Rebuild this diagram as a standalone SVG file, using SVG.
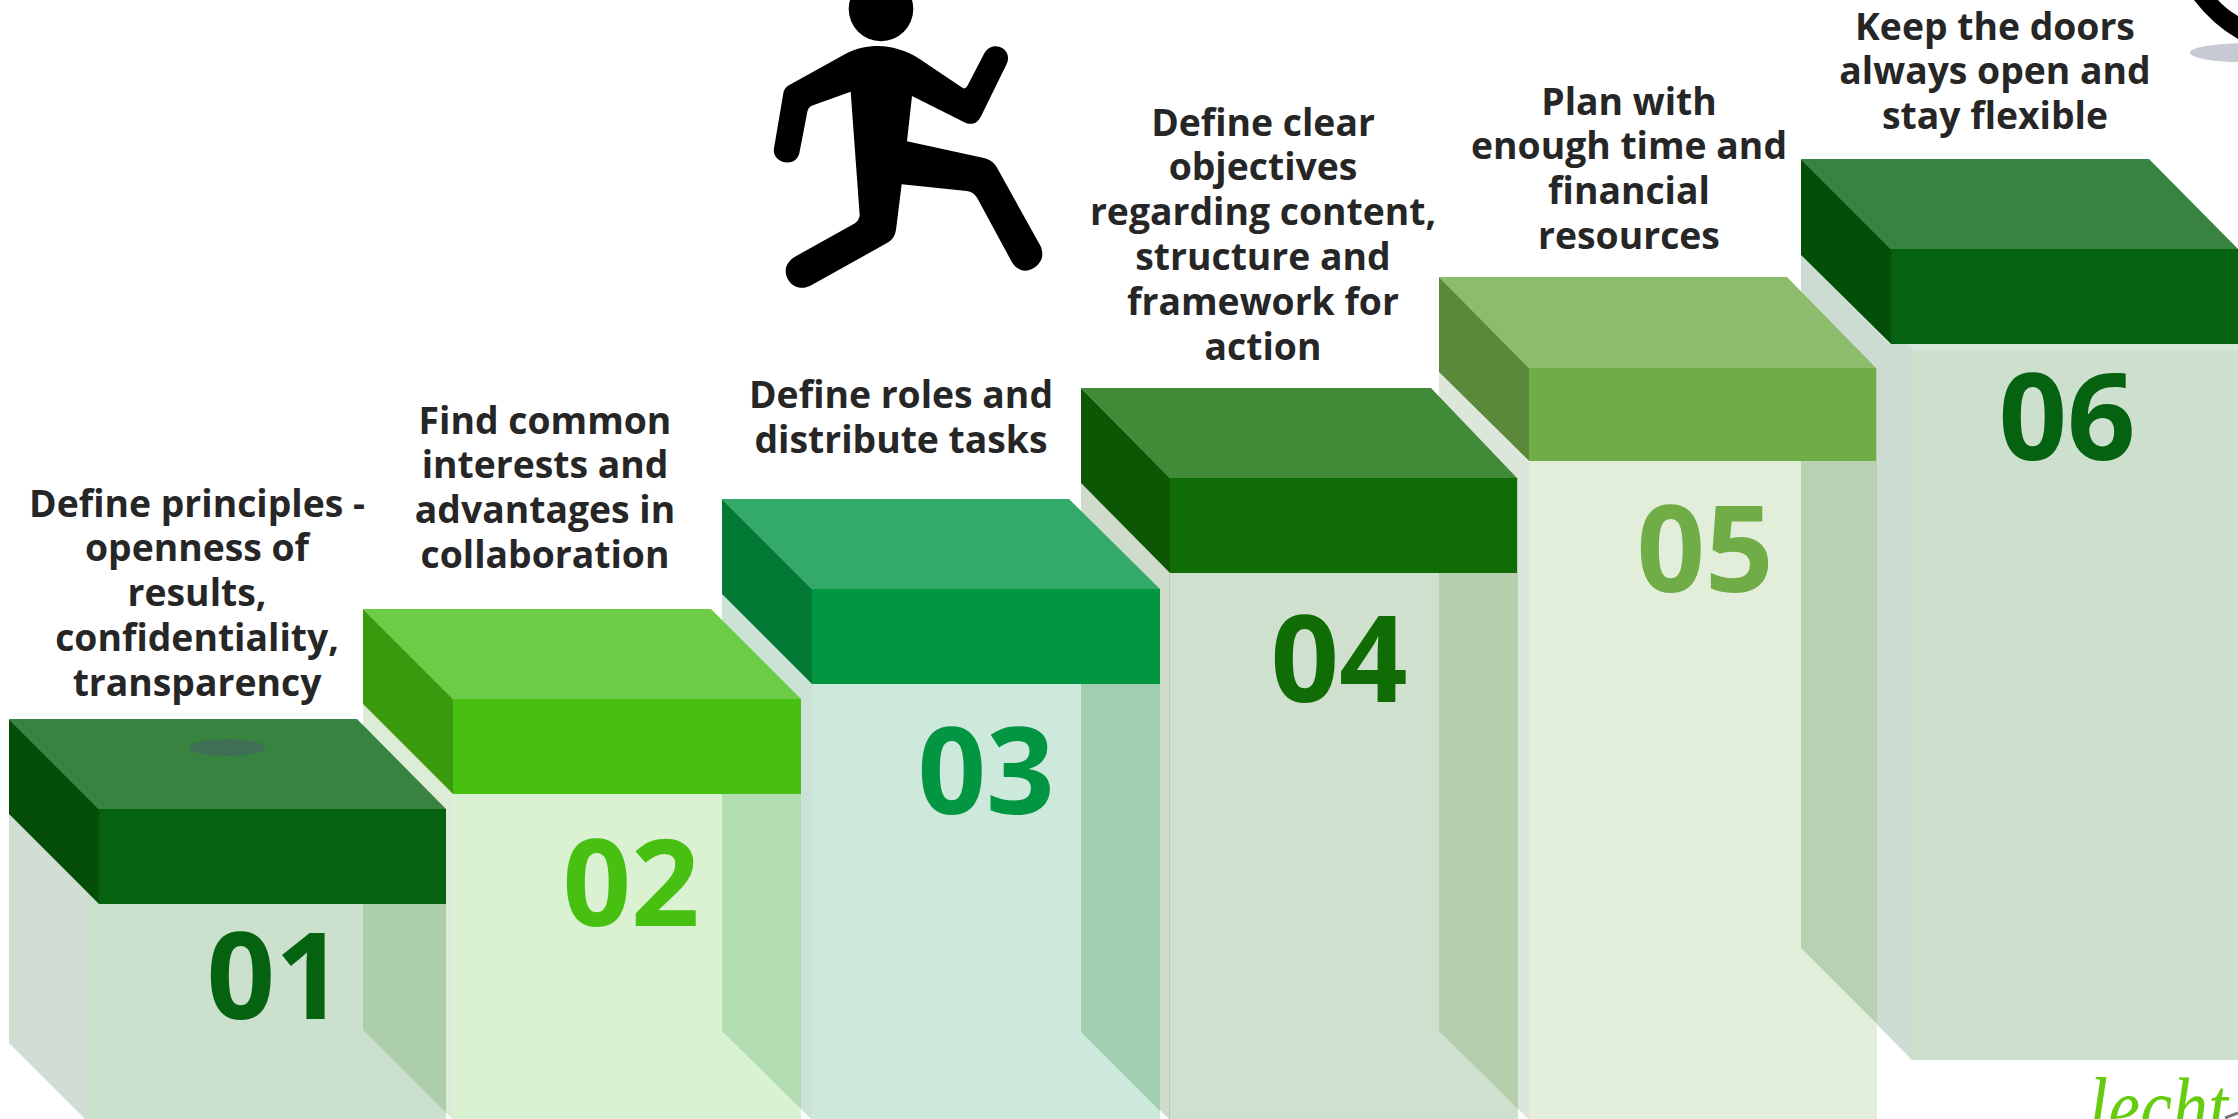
<svg xmlns="http://www.w3.org/2000/svg" width="2238" height="1119" viewBox="0 0 2238 1119">
<style>
.lbl{font-family:"Open Sans","Liberation Sans",sans-serif;font-weight:700;font-size:37.3px;fill:#262626;text-anchor:middle}
.num{font-family:"Open Sans","Liberation Sans",sans-serif;font-weight:700;font-size:120px;text-anchor:middle}
.c1{fill:#056210}.t1{fill:#37833f}.l1{fill:#034f0a}
.c2{fill:#47c012}.t2{fill:#6ccc45}.l2{fill:#399a0e}
.c3{fill:#039642}.t3{fill:#33aa6a}.l3{fill:#027a35}
.c4{fill:#106d06}.t4{fill:#418a38}.l4{fill:#0d5704}
.c5{fill:#70ad47}.t5{fill:#8dbd6c}.l5{fill:#5a8a39}
</style>
<rect width="2238" height="1119" fill="#ffffff"/>
<g id="step-6">
<polygon points="1801,255 1890,344 1912,344 1912,1060 1801,948" fill="#cddcd2"/>
<rect x="1912" y="344" width="326" height="716" fill="#cce0cd"/>
<polygon points="1906,344 2238,344 2238,350 1912,350" fill="#d6e6da"/>
<polygon class="t1" points="1801,159 2149,159 2238,249 1891,249"/>
<rect class="c1" x="1891" y="249" width="347" height="95"/>
<polygon class="l1" points="1801,159 1891,249 1891,344 1801,255"/>
<text class="num c1" x="2067" y="460">06</text>
<text class="lbl" y="39.5"><tspan x="1995">Keep the doors</tspan><tspan x="1995" dy="44.8">always open and</tspan><tspan x="1995" dy="44.8">stay flexible</tspan></text>
</g>
<g id="step-5">
<polygon points="1439,372 1529,462 1529,1120 1439,1031" fill="#dde6da"/>
<rect x="1529" y="459" width="348" height="660" fill="#e3eeda"/>
<polygon points="1801,368 1877,368 1877,1024 1801,948" fill="#b8d1b3"/>
<polygon class="t5" points="1439,277 1787,277 1876,368 1529,368"/>
<rect class="c5" x="1529" y="368" width="347" height="93"/>
<polygon class="l5" points="1439,277 1529,368 1529,461 1439,372"/>
<text class="num c5" x="1705" y="592">05</text>
<text class="lbl" y="114.5"><tspan x="1629">Plan with</tspan><tspan x="1629" dy="44.8">enough time and</tspan><tspan x="1629" dy="44.8">financial</tspan><tspan x="1629" dy="44.8">resources</tspan></text>
</g>
<g id="step-4">
<polygon points="1081,483 1169,571 1169,1119 1081,1032" fill="#cfdccb"/>
<rect x="1169" y="571" width="349" height="548" fill="#d0e0ce"/>
<line x1="1169.5" y1="573" x2="1169.5" y2="1119" stroke="#b9ccb5" stroke-width="1"/>
<polygon points="1439,478 1518,478 1518,1109 1439,1031" fill="#b5cfad"/>
<polygon class="t4" points="1081,388 1431,388 1517,478 1170,478"/>
<rect class="c4" x="1170" y="478" width="347" height="95"/>
<polygon class="l4" points="1081,388 1170,478 1170,573 1081,483"/>
<text class="num c4" x="1339" y="702">04</text>
<text class="lbl" y="135.5"><tspan x="1263">Define clear</tspan><tspan x="1263" dy="44.8">objectives</tspan><tspan x="1263" dy="44.8">regarding content,</tspan><tspan x="1263" dy="44.8">structure and</tspan><tspan x="1263" dy="44.8">framework for</tspan><tspan x="1263" dy="44.8">action</tspan></text>
</g>
<g id="step-3">
<polygon points="722,594 812,684 812,1120 722,1031" fill="#cce2d6"/>
<rect x="812" y="682" width="348" height="437" fill="#cde9db"/>
<polygon points="1081,589 1160,589 1160,1111 1081,1032" fill="#a2ceb0"/>
<polygon class="t3" points="722,499 1069,499 1160,589 812,589"/>
<rect class="c3" x="812" y="589" width="348" height="95"/>
<polygon class="l3" points="722,499 812,589 812,684 722,594"/>
<text class="num c3" x="986" y="814">03</text>
<text class="lbl" y="408"><tspan x="901">Define roles and</tspan><tspan x="901" dy="44.8">distribute tasks</tspan></text>
</g>
<g id="step-2">
<polygon points="363,704 453,794 453,1120 363,1030" fill="#dcecd6"/>
<rect x="453" y="792" width="348" height="327" fill="#daf2d1"/>
<polygon points="722,699 801,699 801,1109 722,1031" fill="#b2ddb0"/>
<polygon class="t2" points="363,609 711,609 801,699 453,699"/>
<rect class="c2" x="453" y="699" width="348" height="95"/>
<polygon class="l2" points="363,609 453,699 453,794 363,704"/>
<text class="num c2" x="631" y="926">02</text>
<text class="lbl" y="433.5"><tspan x="545">Find common</tspan><tspan x="545" dy="44.8">interests and</tspan><tspan x="545" dy="44.8">advantages in</tspan><tspan x="545" dy="44.8">collaboration</tspan></text>
</g>
<g id="step-1">
<polygon points="9,814 87,892 87,1121 9,1043" fill="#cfddd2"/>
<rect x="87" y="885" width="359" height="234" fill="#cbe0cd"/>
<polygon points="363,809 446,809 446,1113 363,1030" fill="#aecfac"/>
<polygon class="t1" points="9,719 357,719 446,809 99,809"/>
<rect class="c1" x="99" y="809" width="347" height="95"/>
<polygon class="l1" points="9,719 99,809 99,904 9,814"/>
<ellipse cx="227" cy="747.5" rx="38" ry="8.5" fill="#3f7056"/>
<text class="num c1" x="275" y="1019">01</text>
<text class="lbl" y="516.5"><tspan x="197">Define principles -</tspan><tspan x="197" dy="44.8">openness of</tspan><tspan x="197" dy="44.8">results,</tspan><tspan x="197" dy="44.8">confidentiality,</tspan><tspan x="197" dy="44.8">transparency</tspan></text>
</g>
<g id="runner">
<circle cx="881" cy="9" r="32.3" fill="#000000"/>
<path transform="translate(740 0) scale(0.33333)" fill="#000000" d="M415 138C450 138 500 150 540 178L665 262Q675 270 682 258L733 160C745 138 770 133 788 145C805 157 808 175 800 192L725 345C712 372 695 378 670 365L516 288L501 424L735 475Q760 482 772 505L900 735C915 765 905 790 880 805C855 820 830 810 815 785L712 595Q702 575 680 573L485 553L468 690Q464 715 445 727L215 855C190 870 160 865 145 840C128 810 140 785 165 770L345 670Q358 660 359 645L332 275L215 317Q205 322 202 335L178 460C172 482 155 490 135 487C112 483 98 465 102 445L130 280Q133 262 148 255L320 160C350 145 380 138 415 138Z"/>
</g>
<g id="top-right-figure">
<ellipse cx="2244" cy="52.7" rx="54" ry="9.5" fill="#c5cad3"/>
<path d="M2194 0Q2212 24 2238 39L2238 16Q2226 9 2218 0Z" fill="#000000"/>
</g>
<g id="logo">
<text x="2088" y="1136" font-family="'Liberation Serif',serif" font-style="italic" font-size="84" fill="#66cc10" textLength="140" lengthAdjust="spacingAndGlyphs">lecht</text>
<path d="M2225 1118L2238 1113" stroke="#777777" stroke-width="3" fill="none"/>
</g>
</svg>
